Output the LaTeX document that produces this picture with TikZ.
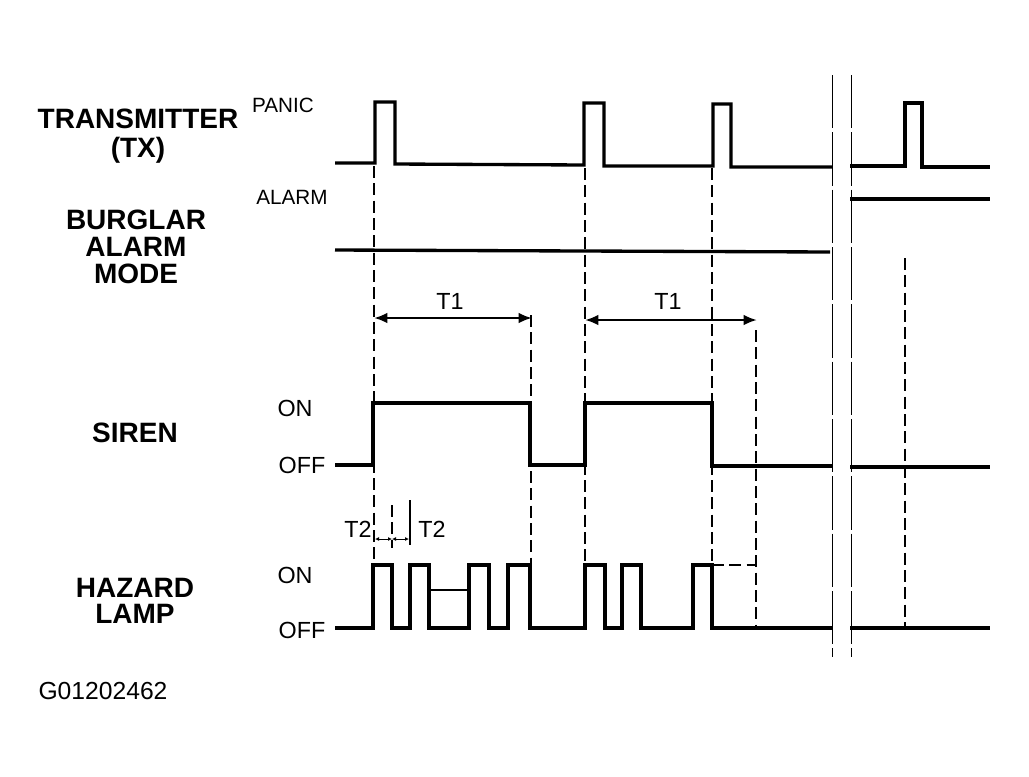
\documentclass[tikz,border=0pt]{standalone}
\usepackage{fontspec}
\setmainfont{Liberation Sans}
\usetikzlibrary{arrows.meta}

\tikzset{
	wave/.style={black, line width=2.5pt},
	guide/.style={black, line width=0.8pt, dash pattern=on 9pt off 4pt},
	breakline/.style={black, line width=0.6pt, dash pattern=on 40pt off 3pt},
	signame/.style={font=\fontsize{21}{22}\selectfont\bfseries, align=center},
	lvl/.style={font=\fontsize{17.5}{19}\selectfont},
	tip/.style={{Latex[length=10pt,width=8pt]}-{Latex[length=10pt,width=8pt]}},
	smalltip/.style={{Latex[length=3pt,width=3pt]}-{Latex[length=3pt,width=3pt]}},
}

\begin{document}
\begin{tikzpicture}[x=0.75pt, y=-0.75pt]
		\useasboundingbox (0,0) rectangle (1029,776);
		
		% signal names
		\node[signame] (tx) at (138,136) {TRANSMITTER\\(TX)};
		\node[signame, font=\fontsize{21}{20.5}\selectfont\bfseries] (mode) at (136,247) {BURGLAR\\ALARM\\MODE};
		\node[signame] (siren) at (135,433) {SIREN};
		\node[signame, font=\fontsize{21}{19}\selectfont\bfseries] (lamp) at (135,601) {HAZARD\\LAMP};
		\node[lvl, font=\fontsize{15.5}{17}\selectfont] (panic) at (283,105) {PANIC};
		\node[lvl, font=\fontsize{15.5}{17}\selectfont] (alarm) at (292,197) {ALARM};
		\node[lvl] (sirenon) at (295,408) {ON};
		\node[lvl] (sirenoff) at (302,465) {OFF};
		\node[lvl] (lampon) at (295,575) {ON};
		\node[lvl] (lampoff) at (302,630) {OFF};
		\node[lvl] (ta) at (450,301) {T1};
		\node[lvl] (tb) at (668,301) {T1};
		\node[lvl] (tc) at (358,529) {T2};
		\node[lvl] (td) at (432,529) {T2};
		\node[lvl, font=\fontsize{18.5}{20}\selectfont] (code) at (103,691) {G01202462};
		
		% guide lines
		\draw[guide] (374,166) -- (374,565);
		\draw[guide] (392,505) -- (392,548);
		\draw[black, line width=0.8pt] (410,500) -- (410,545);
		\draw[guide] (531,315) -- (531,628);
		\draw[guide] (585,168) -- (585,565);
		\draw[guide] (712,168) -- (712,565);
		\draw[guide] (756,330) -- (756,628);
		\draw[guide] (905,258) -- (905,628);
		\draw[guide] (712,565) -- (756,565);
		
		% break in time axis
		\draw[breakline] (832,75) -- (832,657);
		\draw[breakline] (851,75) -- (851,657);
		
		% transmitter
		\draw[wave] (335,163) -- (375,163) -- (375,102) -- (395,102) -- (395,164) -- (584,165) -- (584,103) -- (604,103) -- (604,166) -- (713,166) -- (713,104) -- (731,104) -- (731,167) -- (832,167);
		\draw[wave] (850,166) -- (905,166) -- (905,103) -- (922,103) -- (922,167) -- (990,167);
		
		% burglar alarm mode
		\draw[wave] (335,250) -- (830,252);
		\draw[wave] (850,199) -- (990,199);
		
		% siren
		\draw[wave] (335,465) -- (373,465) -- (373,403) -- (530,403) -- (530,465) -- (585,465) -- (585,403) -- (712,403) -- (712,466) -- (832,466);
		\draw[wave] (850,467) -- (990,467);
		
		% hazard lamp
		\draw[wave] (335,628) -- (373,628) -- (373,565) -- (392,565) -- (392,628) -- (410,628) -- (410,565) -- (429,565) -- (429,628) -- (469,628) -- (469,565) -- (489,565) -- (489,628) -- (508,628) -- (508,565) -- (530,565) -- (530,628) -- (585,628) -- (585,565) -- (605,565) -- (605,628) -- (622,628) -- (622,565) -- (641,565) -- (641,628) -- (693,628) -- (693,565) -- (712,565) -- (712,628) -- (832,628);
		\draw[wave] (850,628) -- (990,628);
		\draw[black, line width=1pt] (429,590) -- (469,590);
		
		% periods
		\draw[black, line width=1.8pt, tip] (374,318) -- (532,318);
		\draw[black, line width=1.8pt, tip] (585,320) -- (757,320);
		\draw[black, line width=0.6pt, smalltip] (375,539) -- (392,539);
		\draw[black, line width=0.6pt, smalltip] (392,539) -- (409,539);
		
	\end{tikzpicture}
\end{document}
